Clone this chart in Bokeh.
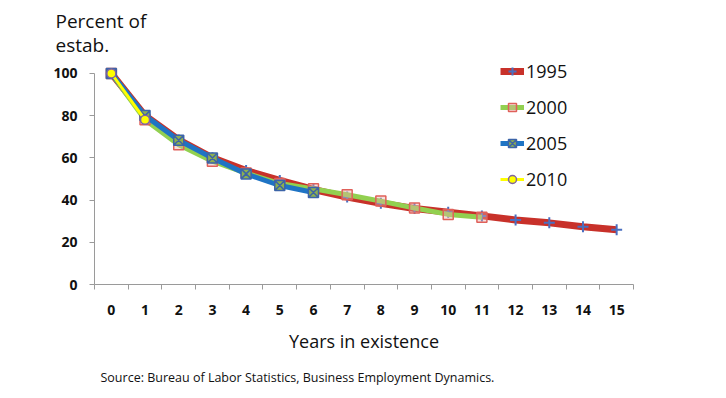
from bokeh.plotting import figure
from bokeh.models import FixedTicker, Legend, LegendItem, Title, Range1d
from bokeh.embed import file_html
from bokeh.resources import INLINE

years = list(range(16))
tick_labels = [str(y) for y in years]
s1995 = [100, 80, 68.5, 60, 54, 49.3, 45, 41.4, 38.5, 36, 34.2, 32.5, 30.6, 29.2, 27.4, 25.9]
s2000 = [100, 78, 66.2, 58.4, 52.8, 47.8, 45.3, 42.5, 39.5, 36.2, 33.2, 31.9]
s2005 = [100, 80, 68.3, 59.9, 52.4, 46.9, 43.6]
s2010 = [100, 78]
y_ticks = [0, 20, 40, 60, 80, 100]

FONT = "Open Sans"

p = figure(width=710, height=396, output_backend="svg", toolbar_location=None,
           x_range=Range1d(-0.5, 15.5), y_range=Range1d(0, 108),
           min_border_left=94, min_border_right=77, min_border_top=56, min_border_bottom=112)
p.outline_line_color = None
p.grid.visible = False
p.background_fill_color = "white"

# axes
p.xaxis.ticker = FixedTicker(ticks=years, minor_ticks=[y - 0.5 for y in years] + [15.5])
p.xaxis.major_label_overrides = {y: l for y, l in zip(years, tick_labels)}
p.xaxis.major_tick_line_color = None
p.xaxis.major_tick_out = 0
p.xaxis.major_tick_in = 0
p.xaxis.minor_tick_out = 5
p.xaxis.minor_tick_in = 0
p.xaxis.minor_tick_line_color = "#9a9a9a"
p.xaxis.axis_line_color = "#9a9a9a"
p.xaxis.major_label_standoff = 15
p.xaxis.major_label_text_font = FONT
p.xaxis.major_label_text_font_size = "14px"
p.xaxis.major_label_text_font_style = "bold"
p.xaxis.major_label_text_color = "#111111"
p.xaxis.axis_label = "Years in existence"
p.xaxis.axis_label_standoff = 11
p.xaxis.axis_label_text_font = FONT
p.xaxis.axis_label_text_font_size = "18px"
p.xaxis.axis_label_text_font_style = "normal"
p.xaxis.axis_label_text_color = "#111111"

p.yaxis.ticker = FixedTicker(ticks=y_ticks)
p.yaxis.bounds = (0, 100)
p.yaxis.major_tick_out = 5
p.yaxis.major_tick_in = 0
p.yaxis.minor_tick_line_color = None
p.yaxis.major_tick_line_color = "#9a9a9a"
p.yaxis.axis_line_color = "#9a9a9a"
p.yaxis.major_label_standoff = 12
p.yaxis.major_label_text_font = FONT
p.yaxis.major_label_text_font_size = "14px"
p.yaxis.major_label_text_font_style = "bold"
p.yaxis.major_label_text_color = "#111111"

# series
l1 = p.line(years[:len(s1995)], s1995, line_color="#C8312A", line_width=7)
m1 = p.scatter(years[:len(s1995)], s1995, marker="cross", size=11, line_color="#4A6FC0", line_width=2)
l2 = p.line(years[:len(s2000)], s2000, line_color="#92D050", line_width=5)
m2 = p.scatter(years[:len(s2000)], s2000, marker="square", size=10, line_color="#E0605A",
               fill_color="#E8B0A8", fill_alpha=0.4, line_width=1.5)
l3 = p.line(years[:len(s2005)], s2005, line_color="#1F74C4", line_width=5)
m3 = p.scatter(years[:len(s2005)], s2005, marker="square_x", size=10, line_color="#3C64A8",
               fill_color="#8DB050", line_width=1.5)
l4 = p.line(years[:len(s2010)], s2010, line_color="#FFFF00", line_width=3)
m4 = p.scatter(years[:len(s2010)], s2010, marker="circle", size=9, line_color="#8064A2",
               fill_color="#FFFF00", line_width=1.5)

legend = Legend(items=[
    LegendItem(label="1995", renderers=[l1, m1]),
    LegendItem(label="2000", renderers=[l2, m2]),
    LegendItem(label="2005", renderers=[l3, m3]),
    LegendItem(label="2010", renderers=[l4, m4]),
], location=(406, 93))
legend.border_line_color = None
legend.background_fill_alpha = 0
legend.label_text_font = FONT
legend.label_text_font_size = "18px"
legend.label_text_color = "#111111"
legend.glyph_width = 24
legend.glyph_height = 20
legend.label_height = 20
legend.spacing = 12
legend.label_standoff = 2
legend.padding = 4
legend.margin = 0
p.add_layout(legend)

t_estab = Title(text="estab.", align="left", offset=-39, standoff=-3,
                text_font=FONT, text_font_size="19px", text_font_style="normal", text_color="#111111")
t_pct = Title(text="Percent of", align="left", offset=-39, standoff=-4,
              text_font=FONT, text_font_size="19px", text_font_style="normal", text_color="#111111")
p.add_layout(t_estab, "above")
p.add_layout(t_pct, "above")

t_src = Title(text="Source: Bureau of Labor Statistics, Business Employment Dynamics.", align="left",
              offset=6, standoff=22, text_font=FONT, text_font_size="12.5px", text_font_style="normal",
              text_color="#111111")
p.add_layout(t_src, "below")

open("out.html", "w").write(file_html(p, INLINE))
